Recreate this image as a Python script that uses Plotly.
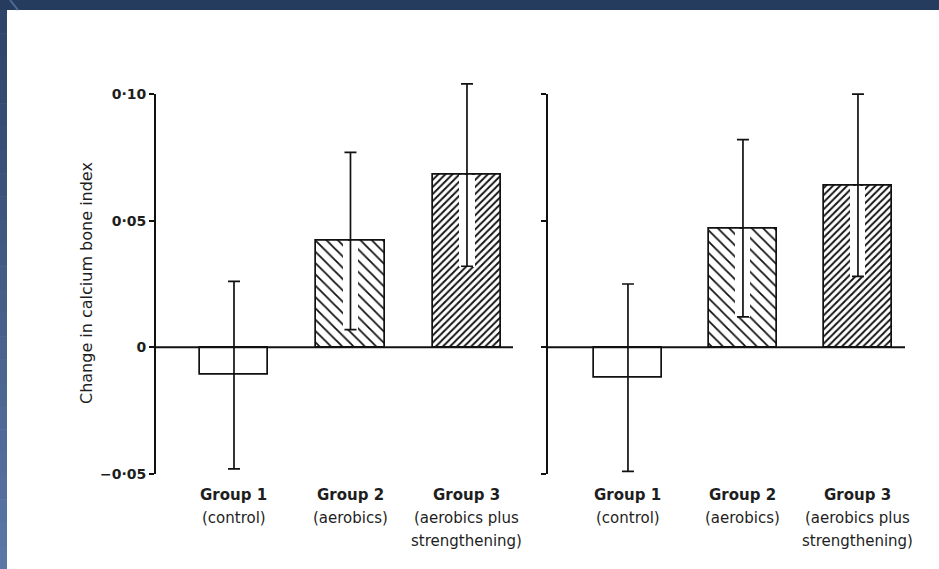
import plotly.graph_objects as go

# ---------------- data ----------------
groups = ["Group 1", "Group 2", "Group 3"]
sub_line1 = ["(control)", "(aerobics)", "(aerobics plus"]
sub_line2 = ["", "", "strengthening)"]
x_pos = [0, 1, 2]

left_values = [-0.011, 0.042, 0.068]
left_errors = [0.037, 0.035, 0.036]
right_values = [-0.012, 0.047, 0.064]
right_errors = [0.037, 0.035, 0.036]

ytick_vals = [-0.05, 0, 0.05, 0.10]
ytick_text = ["\u22120\u00b705", "0", "0\u00b705", "0\u00b710"]
y_title = "Change in calcium bone index"

# ---------------- style ----------------
W, H = 939, 569
FONT = "DejaVu Sans"
INK = "#111111"
TXT = "#1e1e1e"
pattern_shapes = ["", "\\", "/"]
pattern_sizes = [8, 8, 5]
pattern_solid = [0.3, 0.22, 0.38]

fig = go.Figure()


def add_panel(values, errors, xa, ya):
    fig.add_trace(go.Bar(
        x=x_pos, y=values, width=0.59, xaxis=xa, yaxis=ya,
        marker=dict(color="white",
                    line=dict(color=INK, width=1.7),
                    pattern=dict(shape=pattern_shapes, size=pattern_sizes,
                                 solidity=pattern_solid, fgcolor=INK,
                                 fgopacity=1, bgcolor="white",
                                 fillmode="overlay")),
        showlegend=False, hoverinfo="skip"))
    # white strip behind the error bar inside hatched bars
    lows = [v - e for v, e in zip(values, errors)]
    fig.add_trace(go.Bar(
        x=x_pos[1:], base=lows[1:],
        y=[v - l for v, l in zip(values[1:], lows[1:])],
        width=0.13, xaxis=xa, yaxis=ya,
        marker=dict(color="white", line=dict(width=0)),
        showlegend=False, hoverinfo="skip"))
    fig.add_trace(go.Scatter(
        x=x_pos, y=values, mode="markers", xaxis=xa, yaxis=ya,
        marker=dict(size=1, color="rgba(0,0,0,0)"),
        error_y=dict(type="data", array=errors, symmetric=True,
                     color=INK, thickness=1.7, width=6),
        showlegend=False, hoverinfo="skip"))


add_panel(left_values, left_errors, "x", "y")
add_panel(right_values, right_errors, "x2", "y2")

y_range = [-0.06, 0.11]
y_dom = [(H - 499.3) / H, (H - 68.7) / H]

axis_common = dict(showgrid=False, zeroline=False, showline=False)
fig.update_layout(
    width=W, height=H, margin=dict(l=0, r=0, t=0, b=0),
    paper_bgcolor="white", plot_bgcolor="rgba(0,0,0,0)",
    barmode="overlay", bargap=0,
    font=dict(family=FONT, color=TXT, size=14),
    xaxis=dict(domain=[155 / W, 513 / W], range=[-0.678, 2.395],
               showticklabels=False, ticks="", **axis_common),
    xaxis2=dict(domain=[547 / W, 905 / W], range=[-0.704, 2.409],
                showticklabels=False, ticks="", **axis_common),
    yaxis=dict(domain=y_dom, range=y_range, anchor="x",
               tickvals=ytick_vals, ticktext=ytick_text, ticks="outside",
               ticklen=5, tickwidth=2, tickcolor=INK,
               tickfont=dict(family=FONT, size=14, color=TXT, weight="bold"),
               **axis_common),
    yaxis2=dict(domain=y_dom, range=y_range, anchor="x2",
                tickvals=ytick_vals, showticklabels=False, ticks="outside",
                ticklen=5, tickwidth=2, tickcolor=INK, **axis_common),
)

shapes = []
for xd, yr in (("x domain", "y"), ("x2 domain", "y2")):
    shapes.append(dict(type="line", xref=xd, yref=yr, x0=0, x1=0,
                       y0=ytick_vals[0], y1=ytick_vals[-1],
                       line=dict(color=INK, width=2), layer="above"))
    shapes.append(dict(type="line", xref=xd, yref=yr, x0=0, x1=1,
                       y0=0, y1=0, line=dict(color=INK, width=2),
                       layer="above"))

# slide-style frame: dark band on top, gradient strip on the left
shapes.append(dict(type="rect", xref="paper", yref="paper", x0=0, x1=1,
                   y0=(H - 10) / H, y1=1, fillcolor="#263c5f",
                   line=dict(width=0), layer="above"))
c_top = (0x2e, 0x44, 0x68)
c_bot = (0x5a, 0x76, 0xa6)
n_seg = 24
for i in range(n_seg):
    t = i / (n_seg - 1)
    c = tuple(round(a + (b - a) * t) for a, b in zip(c_top, c_bot))
    y1 = 1 - (10 + (H - 10) * i / n_seg) / H
    y0 = 1 - (10 + (H - 10) * (i + 1) / n_seg) / H
    shapes.append(dict(type="rect", xref="paper", yref="paper",
                       x0=0, x1=7 / W, y0=y0 - 0.001, y1=y1,
                       fillcolor="rgb(%d,%d,%d)" % c, line=dict(width=0),
                       layer="above"))
shapes.append(dict(type="line", xref="paper", yref="paper",
                   x0=10 / W, x1=18 / W, y0=1, y1=(H - 10) / H,
                   line=dict(color="#4f6a95", width=2), layer="above"))
fig.update_layout(shapes=shapes)

# category labels
annotations = []
for xa in ("x", "x2"):
    for i, g in enumerate(groups):
        annotations.append(dict(x=x_pos[i], xref=xa, y=(H - 495) / H,
                                yref="paper", text="<b>" + g + "</b>",
                                showarrow=False, yanchor="middle",
                                font=dict(family=FONT, size=15, color=TXT)))
        annotations.append(dict(x=x_pos[i], xref=xa, y=(H - 518) / H,
                                yref="paper", text=sub_line1[i],
                                showarrow=False, yanchor="middle",
                                font=dict(family=FONT, size=15, color=TXT)))
        if sub_line2[i]:
            annotations.append(dict(x=x_pos[i], xref=xa, y=(H - 541) / H,
                                    yref="paper", text=sub_line2[i],
                                    showarrow=False, yanchor="middle",
                                    font=dict(family=FONT, size=15,
                                              color=TXT)))
annotations.append(dict(x=86 / W, xref="paper", y=(H - 283) / H,
                        yref="paper", text=y_title, textangle=-90,
                        showarrow=False, xanchor="center", yanchor="middle",
                        font=dict(family=FONT, size=16, color=TXT)))
fig.update_layout(annotations=annotations)

fig.write_html("out.html",
               config={"displayModeBar": False},
               post_script="document.body.style.margin='0';"
                           "document.body.style.padding='0';")
